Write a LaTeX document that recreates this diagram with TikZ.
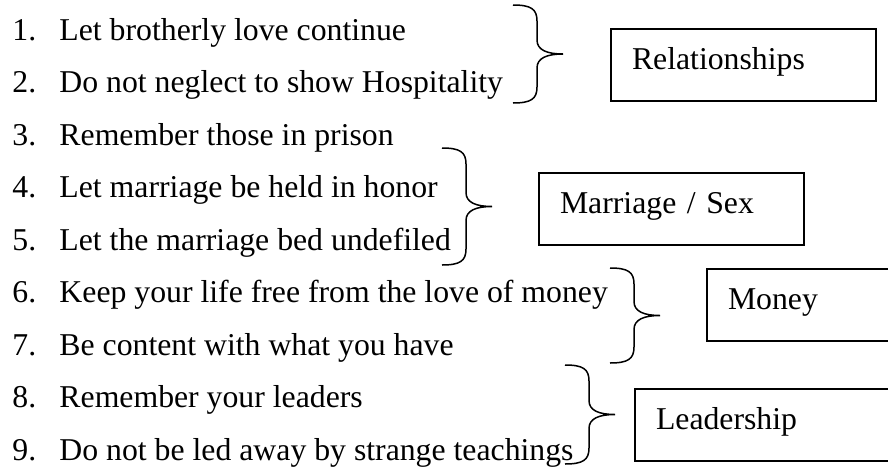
\documentclass[tikz,border=0pt]{standalone}
\usepackage{fontspec}
\setmainfont{Liberation Serif}
\usepackage{tikz}

% right-hand curly brace: x of its two ends, top, bottom
\newcommand{\groupbrace}[3]{%
  \pgfmathsetmacro{\brx}{#1+24}
  \pgfmathsetmacro{\tipx}{#1+50}
  \pgfmathsetmacro{\midy}{(#2+#3)/2}
  \draw[bracepen] (#1,#2) .. controls (#1+18,#2) and (\brx,#2+4) .. (\brx,#2+16)
    -- (\brx,\midy-14) .. controls (\brx,\midy-4) and (\brx+10,\midy) .. (\tipx,\midy)
    .. controls (\brx+10,\midy) and (\brx,\midy+4) .. (\brx,\midy+14)
    -- (\brx,#3-16) .. controls (\brx,#3-4) and (#1+18,#3) .. (#1,#3);
}

\begin{document}
\begin{tikzpicture}[x=0.4pt,y=-0.4pt,
    item/.style={font=\fontsize{12.7}{15}\selectfont, anchor=base west, inner sep=0pt},
    group/.style={draw, line width=0.8pt, anchor=north west, inner xsep=8.4pt, inner ysep=0pt,
        text width=89.2pt, align=left, text height=16pt, text depth=12.8pt,
        font=\fontsize{12.7}{15}\selectfont},
    bracepen/.style={line width=0.6pt}]
       \clip (0,0) rectangle (888,467);
       \foreach \txt [count=\i] in {Let brotherly love continue,
           Do not neglect to show Hospitality,
           Remember those in prison,
           Let marriage be held in honor,
           Let the marriage bed undefiled,
           Keep your life free from the love of money,
           Be content with what you have,
           Remember your leaders,
           Do not be led away by strange teachings}
         \node [item] (item\i) at (12,{40+52.5*(\i-1)}) {\makebox[18.8pt][l]{\i.}\txt};
       \node [group] (rel)  at (610,28)  {Relationships};
       \node [group] (mar)  at (538,172) {Marriage / Sex};
       \node [group] (mon)  at (706,268) {Money};
       \node [group] (lead) at (634,388) {Leadership};
       \groupbrace{513}{5}{103}
       \groupbrace{442}{148}{265}
       \groupbrace{610}{268}{363}
       \groupbrace{565}{365}{464}
    \end{tikzpicture}
\end{document}
